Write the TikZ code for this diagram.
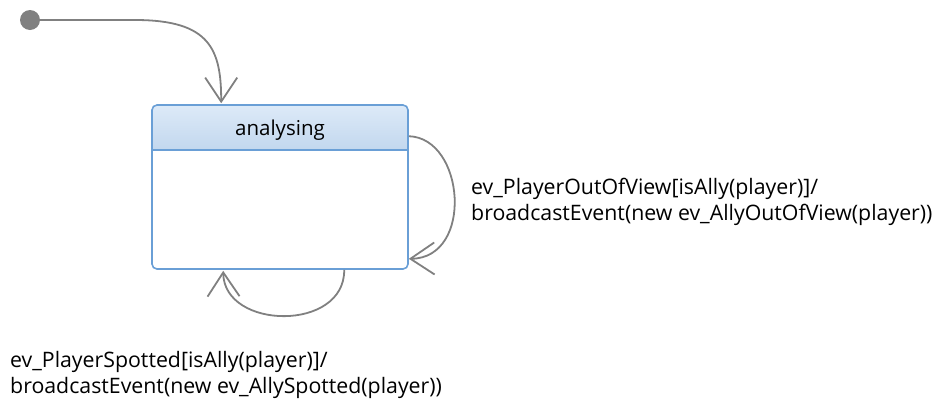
\documentclass[tikz,border=0pt]{standalone}
\usepackage{fontspec}
\setmainfont{Open Sans}
\usetikzlibrary{arrows.meta,calc}
\definecolor{edgegray}{HTML}{808080}
\definecolor{stateblue}{HTML}{6A9FD6}
\definecolor{headtop}{HTML}{DDEAF8}
\definecolor{headbot}{HTML}{C2D7EE}
\tikzset{
  trans/.style={draw=edgegray, line width=1.8pt, -{Straight Barb[length=24pt,width=32pt,line width=1.8pt]}},
  lbl/.style={anchor=base west, align=left, inner sep=0pt, font=\fontsize{21.3}{26}\selectfont},
}
\begin{document}
\begin{tikzpicture}[x=1pt,y=-1pt]
\useasboundingbox (0,0) rectangle (941,410);
% initial
\node[circle, fill=edgegray, minimum size=20pt, inner sep=0pt] (init) at (30,20) {};
% state
\begin{scope}
\clip[rounded corners=5pt] (152,105) rectangle (408,269);
\shade[top color=headtop, bottom color=headbot] (152,105) rectangle (408,150);
\end{scope}
\node[draw=stateblue, line width=1.6pt, rounded corners=5pt, minimum width=256pt, minimum height=164pt, inner sep=0pt] (s) at (280,187) {};
\draw[stateblue, line width=1.6pt] (s.west |- 0,150) -- (s.east |- 0,150);
\node[font=\fontsize{20.5}{24}\selectfont, anchor=base] (sname) at (280,135) {analysing};
% transitions
\draw[trans] (init.east) -- (135,20) .. controls (210,20) and ($(s.north west)+(70,-55)$) .. ($(s.north west)+(70,-1)$);
\draw[trans] ($(s.north east)+(0,32)$) .. controls (465,138) and (474,258) .. ($(s.south east)+(0,-11)$);
\draw[trans] ($(s.south west)+(193,0)$) .. controls (345,332) and (224,330) .. ($(s.south west)+(72,1)$);
% labels
\node[lbl] (l1) at (471,220) {ev\_PlayerOutOfView[isAlly(player)]/\\broadcastEvent(new ev\_AllyOutOfView(player))};
\node[lbl] (l2) at (10,393) {ev\_PlayerSpotted[isAlly(player)]/\\broadcastEvent(new ev\_AllySpotted(player))};
\end{tikzpicture}
\end{document}
